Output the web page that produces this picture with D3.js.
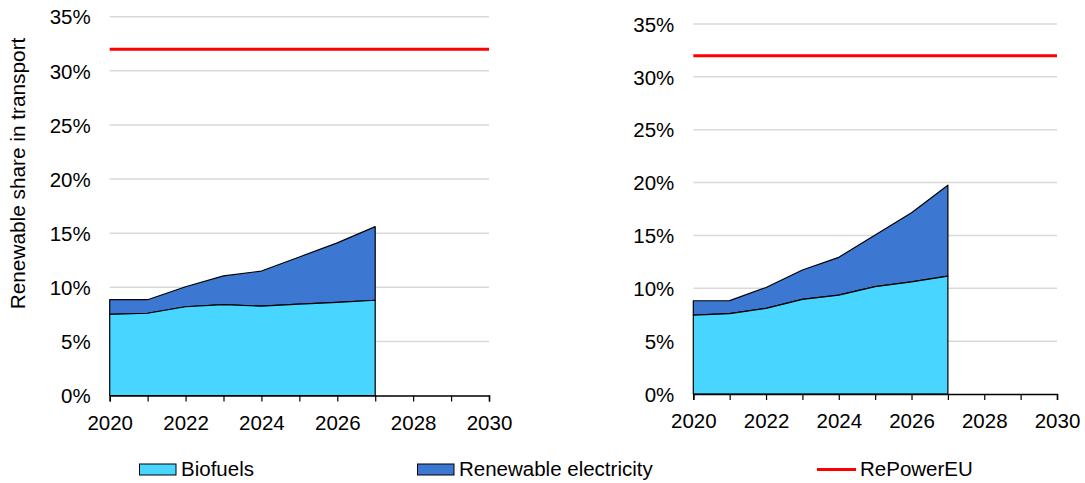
<!DOCTYPE html>
<html><head><meta charset="utf-8">
<script src="https://cdn.jsdelivr.net/npm/d3@7"></script>
<style>body{margin:0;background:#fff}svg{display:block;font-family:"Liberation Sans",Arial,sans-serif}</style>
</head><body><svg id="c" width="1085" height="483"></svg>
<script>
const years = [2020, 2021, 2022, 2023, 2024, 2025, 2026, 2027];
const leftBiofuels = [7.5, 7.6, 8.2, 8.4, 8.25, 8.45, 8.6, 8.8];
const leftElectricity = [1.35, 1.25, 1.85, 2.65, 3.25, 4.35, 5.5, 6.8];
const rightBiofuels = [7.47, 7.6, 8.1, 8.95, 9.35, 10.15, 10.6, 11.15];
const rightElectricity = [1.35, 1.23, 1.98, 2.78, 3.58, 4.9, 6.55, 8.6];
const repowerTarget = 32;
const yTicks = [0, 5, 10, 15, 20, 25, 30, 35];
const xTickLabels = [2020, 2022, 2024, 2026, 2028, 2030];
const seriesNames = ["Biofuels", "Renewable electricity", "RePowerEU"];
const colors = {bio: "#48D5FF", elec: "#3C78D1", red: "#FF0000"};

const svg = d3.select("#c");

function panel(bio, elec, x0, x1, y0, y1) {
  const x = d3.scaleLinear().domain([2020, 2030]).range([x0, x1]);
  const y = d3.scaleLinear().domain([0, 35]).range([y0, y1]);
  const g = svg.append("g");
  g.selectAll("line.grid").data(yTicks.filter(d => d > 0)).enter().append("line")
    .attr("x1", x0).attr("x2", x1).attr("y1", d => y(d)).attr("y2", d => y(d))
    .attr("stroke", "#d9d9d9").attr("stroke-width", 1.5);
  const data = years.map((yr, i) => ({yr, b: bio[i], t: bio[i] + elec[i]}));
  const areaE = d3.area().x(d => x(d.yr)).y0(d => y(d.b)).y1(d => y(d.t));
  const areaB = d3.area().x(d => x(d.yr)).y0(y(0)).y1(d => y(d.b));
  g.append("path").attr("d", areaE(data) + "Z")
    .attr("fill", colors.elec).attr("stroke", "#000").attr("stroke-width", 1.2).attr("stroke-linejoin", "round");
  g.append("path").attr("d", areaB(data) + "Z")
    .attr("fill", colors.bio).attr("stroke", "#000").attr("stroke-width", 1.2).attr("stroke-linejoin", "round");
  g.append("line").attr("x1", x(2020)).attr("x2", x(2030))
    .attr("y1", y(repowerTarget)).attr("y2", y(repowerTarget))
    .attr("stroke", colors.red).attr("stroke-width", 3);
  const xAxis = d3.axisBottom(x).tickValues(d3.range(2020, 2031)).tickSize(6)
    .tickFormat(d => xTickLabels.includes(d) ? d : "");
  const ax = g.append("g").attr("transform", `translate(0,${y(0)})`).call(xAxis);
  ax.select(".domain").attr("stroke", "#000").attr("stroke-width", 1.5);
  ax.selectAll(".tick line").attr("stroke", "#000").attr("stroke-width", 1.2);
  ax.selectAll(".tick text").attr("font-size", 20.5).attr("font-family", "Liberation Sans, Arial, sans-serif")
    .attr("fill", "#000").attr("dy", null).attr("y", 34);
  const yAxis = d3.axisLeft(y).tickValues(yTicks).tickSize(0).tickPadding(19).tickFormat(d => d + "%");
  const ay = g.append("g").attr("transform", `translate(${x0},0)`).call(yAxis);
  ay.select(".domain").remove();
  ay.selectAll(".tick text").attr("font-size", 20.5).attr("font-family", "Liberation Sans, Arial, sans-serif")
    .attr("fill", "#000").attr("dy", "0.35em");
}

panel(leftBiofuels, leftElectricity, 109.7, 489, 395.5, 16.7);
panel(rightBiofuels, rightElectricity, 693.3, 1057, 394, 24);

svg.append("text").attr("transform", "translate(25,173.5) rotate(-90)")
  .attr("text-anchor", "middle").attr("font-size", 20.8).attr("fill", "#000")
  .text("Renewable share in transport");

const lg = svg.append("g");
lg.append("rect").attr("x", 139.5).attr("y", 464).attr("width", 36.5).attr("height", 11)
  .attr("fill", colors.bio).attr("stroke", "#000").attr("stroke-width", 1);
lg.append("text").attr("x", 181).attr("y", 476).attr("font-size", 20.5).text(seriesNames[0]);
lg.append("rect").attr("x", 417.5).attr("y", 464).attr("width", 36.5).attr("height", 11)
  .attr("fill", colors.elec).attr("stroke", "#000").attr("stroke-width", 1);
lg.append("text").attr("x", 459).attr("y", 476).attr("font-size", 20.5).text(seriesNames[1]);
lg.append("line").attr("x1", 817).attr("x2", 856).attr("y1", 469.5).attr("y2", 469.5)
  .attr("stroke", colors.red).attr("stroke-width", 3);
lg.append("text").attr("x", 860).attr("y", 476).attr("font-size", 20.5).text(seriesNames[2]);
</script></body></html>
